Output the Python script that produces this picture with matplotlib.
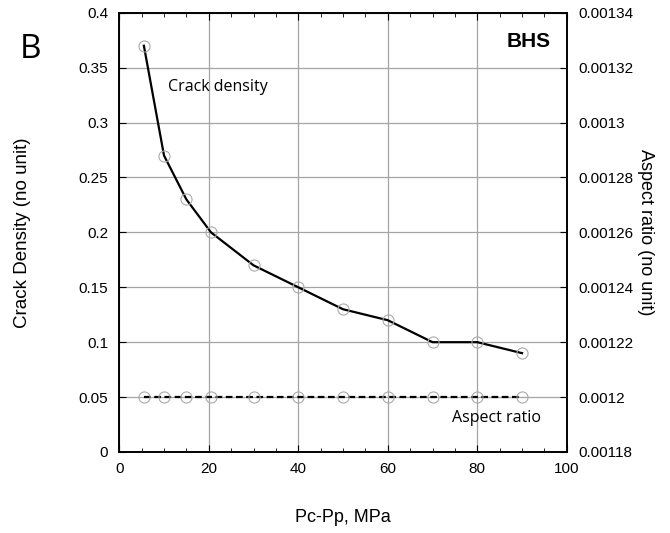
import numpy as np
import matplotlib
matplotlib.use('Agg')
import matplotlib.pyplot as plt
from matplotlib.ticker import MultipleLocator

# Данные
pressure = [5.5, 10, 15, 20.5, 30, 40, 50, 60, 70, 80, 90]
crackDensity = [0.37, 0.27, 0.23, 0.20, 0.17, 0.15, 0.13, 0.12, 0.10, 0.10, 0.09]
aspectRatio = [0.0012] * 11

leftTicks = ['0', '0.05', '0.1', '0.15', '0.2', '0.25', '0.3', '0.35', '0.4']
rightTicks = ['0.00118', '0.0012', '0.00122', '0.00124', '0.00126',
              '0.00128', '0.0013', '0.00132', '0.00134']
xTicks = ['0', '20', '40', '60', '80', '100']

plt.rcParams['font.family'] = ['Liberation Sans', 'DejaVu Sans']

fig = plt.figure(figsize=(6.7, 5.33), dpi=100)
ax = fig.add_axes([0.178, 0.152, 0.668, 0.824])
ax2 = ax.twinx()

ax.plot(pressure, crackDensity, color='black', lw=1.6, zorder=3)
ax.plot(pressure, crackDensity, 'o', ms=8, mfc='none', mec='#aaaaaa', mew=0.8, zorder=4)
ax2.plot(pressure, aspectRatio, color='black', lw=1.6, ls=(0, (3, 1.6)), zorder=3)
ax2.plot(pressure, aspectRatio, 'o', ms=8, mfc='none', mec='#aaaaaa', mew=0.8, zorder=4)

ax.set_xlim(0, 100)
ax.set_ylim(0, 0.4)
ax2.set_ylim(0.00118, 0.00134)
ax.xaxis.set_minor_locator(MultipleLocator(5))
ax.set_yticks(np.linspace(0, 0.4, 9))
ax.set_yticklabels(leftTicks)
ax.set_xticks(np.linspace(0, 100, 6))
ax.set_xticklabels(xTicks)
ax2.set_yticks(np.linspace(0.00118, 0.00134, 9))
ax2.set_yticklabels(rightTicks)

ax.grid(True, which='major', color='#a5a5a5', lw=0.9)
ax.tick_params(which='both', direction='in', top=True, labelsize=11)
ax.tick_params(axis='x', pad=7)
ax.tick_params(axis='y', pad=8)
ax.tick_params(which='major', length=5)
ax.tick_params(which='minor', length=3)
ax.tick_params(axis='y', which='minor', left=False)
ax2.tick_params(direction='in', length=5, labelsize=11, pad=8)
for a in (ax, ax2):
    for s in a.spines.values():
        s.set_linewidth(1.2)

ax.set_xlabel('Pc-Pp, MPa', fontsize=13, labelpad=24)
ax.set_ylabel('Crack Density (no unit)', fontsize=13.5, labelpad=34)
ax2.set_ylabel('Aspect ratio (no unit)', fontsize=13, rotation=-90, labelpad=15)

ax.text(10.8, 0.332, 'Crack density', fontsize=11.5, family='Open Sans', va='center')
ax.text(74.3, 0.031, 'Aspect ratio', fontsize=11.5, family='Open Sans', va='center')
ax.text(96.4, 0.3736, 'BHS', fontsize=15, fontweight='bold', ha='right', va='center')
fig.text(0.03, 0.908, 'B', fontsize=24, family='Open Sans', va='center')

plt.savefig('out.png', dpi=100)
